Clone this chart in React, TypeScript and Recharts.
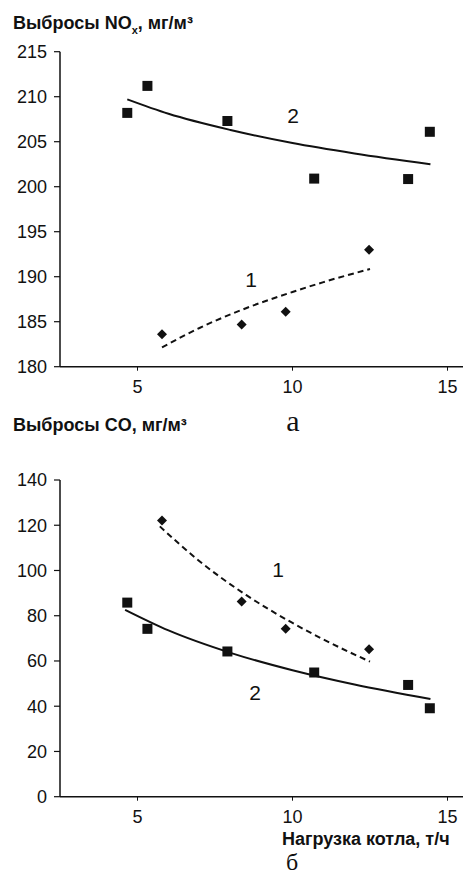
import React from 'react';
import { ComposedChart, Scatter, Line, XAxis, YAxis } from 'recharts';

// Boiler load, t/h
const loadSeries2 = [4.67, 5.32, 7.9, 10.7, 13.73, 14.43];
const loadSeries1 = [5.79, 8.36, 9.78, 12.47];

// NOx emissions, mg/m3
const noxSeries2 = [208.2, 211.2, 207.3, 200.9, 200.85, 206.1];
const noxSeries1 = [183.6, 184.7, 186.1, 193.0];
const noxTrend2X = [4.67, 6, 8, 10, 12, 14.45];
const noxTrend2Y = [209.7, 208.1, 206.3, 204.85, 203.7, 202.5];
const noxTrend1X = [5.79, 7, 8.5, 10, 11, 12.5];
const noxTrend1Y = [182.15, 184.3, 186.5, 188.3, 189.4, 190.85];

// CO emissions, mg/m3
const coSeries2 = [85.8, 74.2, 64.2, 54.9, 49.4, 39.1];
const coSeries1 = [122.1, 86.3, 74.2, 65.2];
const coTrend2X = [4.6, 6, 8, 10, 12, 14.45];
const coTrend2Y = [82.6, 73.5, 63.6, 55.9, 49.6, 43.2];
const coTrend1X = [5.72, 7, 8.5, 10, 11, 12.5];
const coTrend1Y = [119.5, 104.1, 89.2, 76.8, 69.5, 59.7];

const xTicks = [5, 10, 15];
const noxTicks = [180, 185, 190, 195, 200, 205, 210, 215];
const coTicks = [0, 20, 40, 60, 80, 100, 120, 140];

const zip = (xs: number[], ys: number[]) => xs.map((x, i) => ({ x, y: ys[i] }));

const SquareShape = (props: any) => {
  const { cx, cy } = props;
  if (cx == null || cy == null) return null;
  return <rect x={cx - 5} y={cy - 5} width={10} height={10} fill="#111" />;
};

const DiamondShape = (props: any) => {
  const { cx, cy } = props;
  if (cx == null || cy == null) return null;
  const r = 5;
  return <path d={`M${cx},${cy - r} L${cx + r},${cy} L${cx},${cy + r} L${cx - r},${cy} Z`} fill="#111" />;
};

const tickStyle = { fill: '#111', fontSize: 18, fontFamily: '"Liberation Sans", Arial, sans-serif' };

interface PanelProps {
  yDomain: [number, number];
  yTicks: number[];
  s1: { x: number; y: number }[];
  s2: { x: number; y: number }[];
  t1: { x: number; y: number }[];
  t2: { x: number; y: number }[];
  top: number;
  plotTop: number;
}

const Panel = ({ yDomain, yTicks, s1, s2, t1, t2, top, plotTop }: PanelProps) => (
  <div style={{ position: 'absolute', left: 0, top }}>
    <ComposedChart width={466} height={400} margin={{ top: plotTop, right: 3, bottom: 3.3, left: 0 }}>
      <XAxis
        dataKey="x"
        type="number"
        domain={[2.5, 15.5]}
        ticks={xTicks}
        allowDataOverflow
        height={30}
        tick={tickStyle}
        tickSize={4}
        tickMargin={10}
        axisLine={{ stroke: '#111', strokeWidth: 1.5 }}
        tickLine={{ stroke: '#111', strokeWidth: 1 }}
      />
      <YAxis
        type="number"
        domain={yDomain}
        ticks={yTicks}
        allowDataOverflow
        width={60}
        tick={tickStyle}
        tickSize={6}
        tickMargin={7}
        axisLine={{ stroke: '#111', strokeWidth: 1.5 }}
        tickLine={{ stroke: '#111', strokeWidth: 1.2 }}
      />
      <Line data={t2} dataKey="y" type="monotone" stroke="#111" strokeWidth={2} dot={false} isAnimationActive={false} />
      <Line data={t1} dataKey="y" type="monotone" stroke="#111" strokeWidth={2} strokeDasharray="6 4" dot={false} isAnimationActive={false} />
      <Scatter data={s2} dataKey="y" shape={SquareShape} isAnimationActive={false} />
      <Scatter data={s1} dataKey="y" shape={DiamondShape} isAnimationActive={false} />
    </ComposedChart>
  </div>
);

const txt = (left: number, top: number, content: React.ReactNode, style: React.CSSProperties = {}) => (
  <div style={{ position: 'absolute', left, top, lineHeight: 1, whiteSpace: 'nowrap', ...style }}>{content}</div>
);

const titleStyle: React.CSSProperties = {
  fontFamily: '"Liberation Sans", Arial, sans-serif',
  fontWeight: 'bold',
  fontSize: 18,
  color: '#111',
};
const numStyle: React.CSSProperties = {
  fontFamily: '"Liberation Sans", Arial, sans-serif',
  fontSize: 21,
  color: '#111',
  transform: 'translate(-50%, -50%)',
};
const serifStyle: React.CSSProperties = {
  fontFamily: '"Liberation Serif", "Times New Roman", serif',
  color: '#111',
  transform: 'translate(-50%, -50%)',
};

export default function App() {
  return (
    <div style={{ position: 'absolute', left: 0, top: 0, width: 466, height: 874, background: '#fff' }}>
      <Panel
        top={0}
        plotTop={51.7}
        yDomain={[180, 215]}
        yTicks={noxTicks}
        s1={zip(loadSeries1, noxSeries1)}
        s2={zip(loadSeries2, noxSeries2)}
        t1={zip(noxTrend1X, noxTrend1Y)}
        t2={zip(noxTrend2X, noxTrend2Y)}
      />
      <Panel
        top={430}
        plotTop={50}
        yDomain={[0, 140]}
        yTicks={coTicks}
        s1={zip(loadSeries1, coSeries1)}
        s2={zip(loadSeries2, coSeries2)}
        t1={zip(coTrend1X, coTrend1Y)}
        t2={zip(coTrend2X, coTrend2Y)}
      />
      {txt(13, 14, <span>Выбросы NO<sub style={{ fontSize: 11 }}>x</sub>, мг/м³</span>, titleStyle)}
      {txt(293, 115, '2', numStyle)}
      {txt(251, 279, '1', numStyle)}
      {txt(293, 421, 'а', { ...serifStyle, fontSize: 30 })}
      {txt(13, 416, 'Выбросы CO, мг/м³', titleStyle)}
      {txt(278, 569, '1', numStyle)}
      {txt(255, 692, '2', numStyle)}
      {txt(282, 830, 'Нагрузка котла, т/ч', { ...titleStyle, lineHeight: '18px' })}
      {txt(292, 862, 'б', { ...serifStyle, fontSize: 24, lineHeight: '22px' })}
    </div>
  );
}
